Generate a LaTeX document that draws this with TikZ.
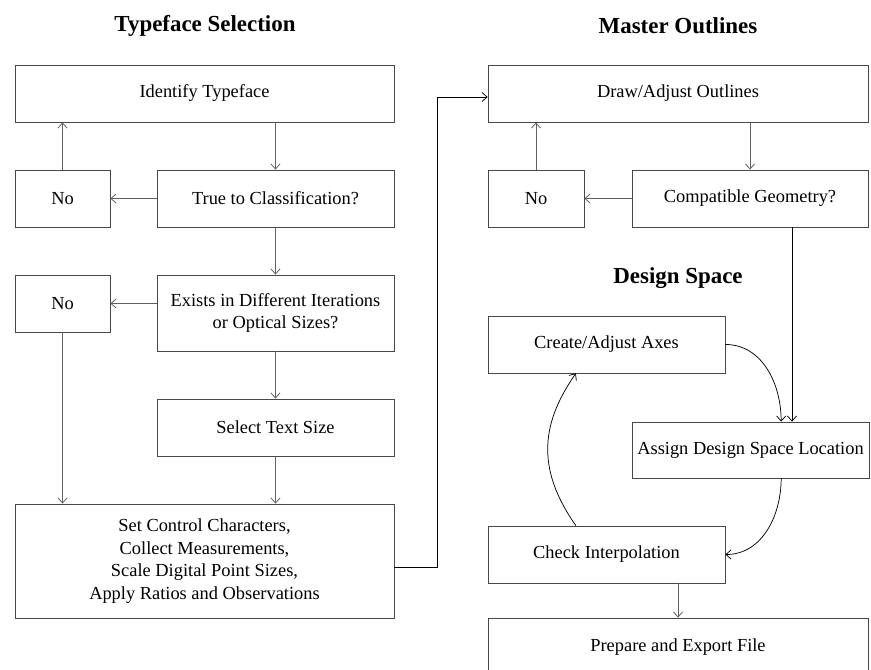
\documentclass[tikz,border=0pt]{standalone}
\usepackage{fontspec}
\setmainfont{Liberation Serif}
\usetikzlibrary{arrows.meta}
\begin{document}
\begin{tikzpicture}[x=0.75pt,y=-0.75pt,
  box/.style={draw=black!72, line width=0.6pt, align=center, inner sep=1pt,
    font=\fontsize{13.8}{17}\selectfont},
  heading/.style={font=\bfseries\fontsize{17.2}{20}\selectfont},
  tip/.style={-{Straight Barb[length=3.8pt,width=6.8pt]}},
  flow/.style={tip, draw=black!62, line width=0.6pt},
  link/.style={tip, draw=black, line width=0.55pt}]
\useasboundingbox (0,0) rectangle (871,670);
\clip (0,0) rectangle (871,670);

% headings
\node[heading] (hType) at (205,26) {Typeface Selection};
\node[heading] (hMaster) at (678,26) {Master Outlines};
\node[heading] (hSpace) at (678,278) {Design Space};

% typeface selection column
\node[box, minimum width=284.25pt, minimum height=42.75pt] (ident) at (204.5,93.5) {Identify Typeface};
\node[box, minimum width=71.25pt, minimum height=42.75pt] (noA) at (62.5,198.5) {No};
\node[box, minimum width=177.75pt, minimum height=42.75pt] (truec) at (275.5,198.5) {True to Classification?};
\node[box, minimum width=71.25pt, minimum height=42.75pt] (noB) at (62.5,303.5) {No};
\node[box, minimum width=177.75pt, minimum height=57pt] (exists) at (275.5,313) {Exists in Different Iterations\\or Optical Sizes?};
\node[box, minimum width=177.75pt, minimum height=42.75pt] (select) at (275.5,427.5) {Select Text Size};
\node[box, minimum width=284.25pt, minimum height=85.5pt] (setc) at (204.5,561) {Set Control Characters,\\Collect Measurements,\\Scale Digital Point Sizes,\\Apply Ratios and Observations};

% master outlines column
\node[box, minimum width=285pt, minimum height=42.75pt] (drawo) at (678,93.5) {Draw/Adjust Outlines};
\node[box, minimum width=72pt, minimum height=42.75pt] (noC) at (536,198.5) {No};
\node[box, minimum width=177pt, minimum height=42.75pt] (compat) at (750,198.5) {Compatible Geometry?};

% design space column
\node[box, minimum width=177.75pt, minimum height=42.75pt] (create) at (606.5,344.5) {Create/Adjust Axes};
\node[box, minimum width=177.75pt, minimum height=42pt] (assign) at (750.5,450) {Assign Design Space Location};
\node[box, minimum width=177.75pt, minimum height=42.75pt] (check) at (606.5,554.5) {Check Interpolation};
\node[box, minimum width=285pt, minimum height=43.5pt] (prep) at (678,647) {Prepare and Export File};

% routing points
\coordinate (bendA) at (437,567);
\coordinate (bendB) at (437,97);
\coordinate (dropX) at (792,300);

% typeface selection arrows
\draw[flow] (truec.north |- ident.south) -- (truec.north);
\draw[flow] (noA.north) -- (noA.north |- ident.south);
\draw[flow] (truec.west) -- (noA.east);
\draw[flow] (truec.south) -- (exists.north);
\draw[flow] (exists.west |- noB.east) -- (noB.east);
\draw[flow] (exists.south) -- (select.north);
\draw[flow] (select.south) -- (select.south |- setc.north);
\draw[flow] (noB.south) -- (noB.south |- setc.north);

% hand-over to master outlines
\draw[link] (setc.east |- bendA) -- (bendA) -- (bendB) -- (drawo.west |- bendB);

% master outlines arrows
\draw[flow] (compat.north |- drawo.south) -- (compat.north);
\draw[flow] (noC.north) -- (noC.north |- drawo.south);
\draw[flow] (compat.west) -- (noC.east);
\draw[link] (compat.south -| dropX) -- (assign.north -| dropX);

% design space loop
\draw[link] (create.east) to[out=0,in=90] ([xshift=23pt]assign.north);
\draw[link] ([xshift=23pt]assign.south) to[out=-90,in=0] (check.east);
\draw[link] ([xshift=-23pt]check.north) to[out=125,in=-125,looseness=1.1] ([xshift=-23pt]create.south);
\draw[flow] (check.south -| prep.north) -- (prep.north);
\end{tikzpicture}
\end{document}
